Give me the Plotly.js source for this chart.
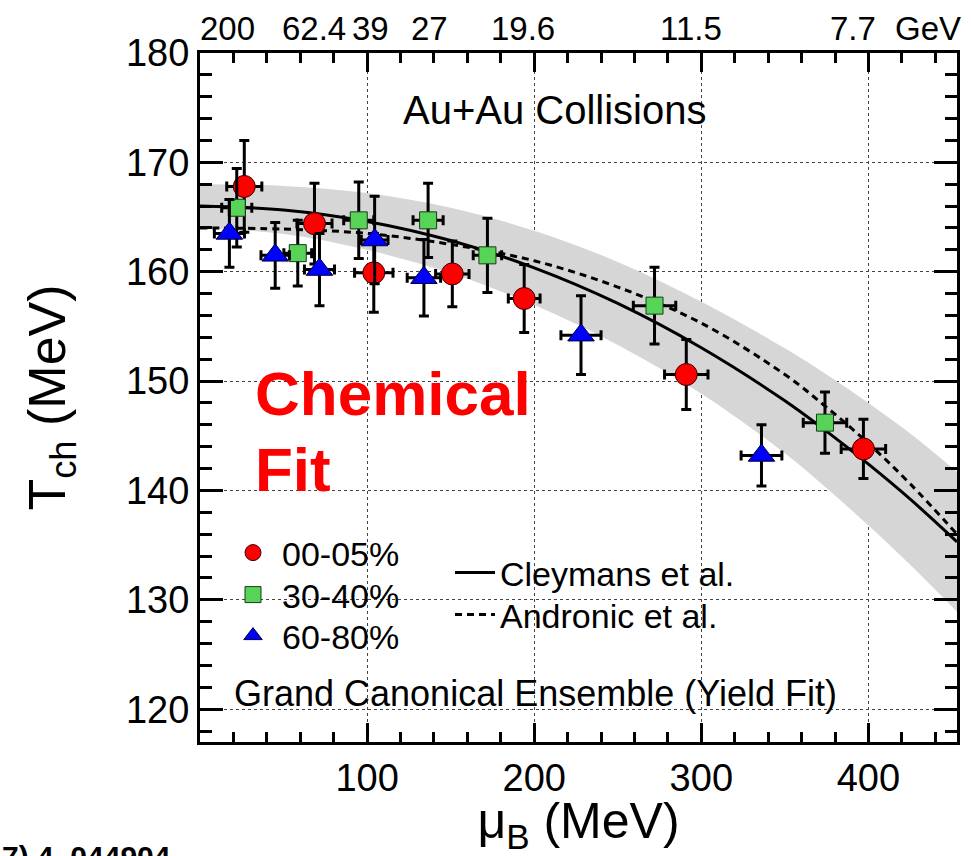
<!DOCTYPE html>
<html><head><meta charset="utf-8">
<script src="https://cdn.plot.ly/plotly-3.0.1.min.js"></script>
<style>html,body{margin:0;padding:0;background:#fff;} #chart{width:971px;height:856px;}</style>
</head><body><div id="chart"></div>
<script>
// Beam energies (top labels) and their positions on the mu_B axis
const energyLabels = ["200", "62.4", "39", "27", "19.6", "11.5", "7.7"];
const energyMuB = [16.2, 68.3, 101.8, 137.1, 193.4, 294, 391];

// 00-05% centrality
const centralMuB = [26.5, 68.5, 104, 151, 194, 291, 397];
const centralMuBErr = [10.5, 10.5, 11.5, 10, 9.5, 13, 13.3];
const centralT = [167.8, 164.4, 159.9, 159.8, 157.55, 150.6, 143.8];
const centralTErr = [4.2, 3.7, 3.6, 3.0, 3.1, 3.2, 2.7];

// 30-40% centrality
const midMuB = [22, 58.5, 95, 136.5, 172, 272, 374];
const midMuBErr = [9, 8.3, 9, 9, 8.5, 12.7, 13];
const midT = [165.85, 161.7, 164.7, 164.7, 161.5, 156.9, 146.2];
const midTErr = [3.6, 3.0, 3.5, 3.4, 3.4, 3.5, 2.8];

// 60-80% centrality
const periphMuB = [17.6, 45, 71.5, 104.5, 134, 228, 336];
const periphMuBErr = [9, 8.5, 9, 8, 10, 12, 12.2];
const periphT = [163.5, 161.5, 160.2, 162.9, 159.45, 154.2, 143.2];
const periphTErr = [3.1, 3.0, 3.3, 4.0, 3.5, 3.6, 2.8];

// Model curves
const curveMuB = [0, 50, 100, 150, 200, 250, 300, 350, 375, 400, 425, 453];
const cleymansT = [166.0, 165.65, 164.6, 162.85, 160.35, 157.1, 153.05, 148.2, 145.4, 142.4, 139.2, 135.3];
const bandUpperT = [168.0, 167.85, 167.2, 165.85, 163.75, 160.9, 157.25, 153.0, 150.6, 148.0, 145.2, 141.7];
const bandLowerT = [164.0, 163.45, 162.0, 159.85, 156.95, 153.3, 148.85, 143.4, 140.2, 136.8, 133.2, 128.9];
const andronicT = [164.0, 163.9, 163.5, 162.5, 161.0, 158.6, 155.3, 150.6, 147.6, 144.3, 140.6, 136.0];

const FONT = "Liberation Sans, Arial, Helvetica, sans-serif";
const W = 971, H = 856, ML = 200, MR = 14, MT = 53, MB = 114;
const PW = W - ML - MR, PH = H - MT - MB;
const px = x => (x - ML) / PW;
const py = y => (H - MB - y) / PH;

function errs(arr) {
  return {type: 'data', array: arr, visible: true, color: 'black', thickness: 3, width: 5};
}

const traces = [
  {x: curveMuB, y: bandLowerT, mode: 'lines', line: {width: 0, shape: 'spline'}, showlegend: false, hoverinfo: 'skip'},
  {x: curveMuB, y: bandUpperT, mode: 'lines', line: {width: 0, shape: 'spline'}, fill: 'tonexty',
   fillcolor: 'rgb(214,214,214)', showlegend: false, hoverinfo: 'skip'},
  {x: curveMuB, y: cleymansT, mode: 'lines', name: 'Cleymans et al.', line: {color: 'black', width: 3, shape: 'spline'}, legend: 'legend4'},
  {x: curveMuB, y: andronicT, mode: 'lines', name: 'Andronic et al.', line: {color: 'black', width: 3, dash: '7px,5px', shape: 'spline'}, legend: 'legend5'},
  {x: centralMuB, y: centralT, mode: 'markers', name: '00-05%', error_x: errs(centralMuBErr), error_y: errs(centralTErr),
   marker: {symbol: 'circle', size: 22, color: '#ff0000', line: {color: '#330000', width: 1}}, legend: 'legend'},
  {x: midMuB, y: midT, mode: 'markers', name: '30-40%', error_x: errs(midMuBErr), error_y: errs(midTErr),
   marker: {symbol: 'square', size: 17, color: '#57d457', line: {color: '#1a3a1a', width: 1}}, legend: 'legend2'},
  {x: periphMuB, y: periphT, mode: 'markers', name: '60-80%', error_x: errs(periphMuBErr), error_y: errs(periphTErr),
   marker: {symbol: 'triangle-up', size: 23, color: '#0000ff', line: {color: '#000033', width: 1}}, legend: 'legend3'}
];

function leg(x, y, iw) {
  return {x: x, y: y, xanchor: 'left', yanchor: 'middle', bgcolor: 'rgba(0,0,0,0)', borderwidth: 0,
          font: {family: FONT, size: 34, color: 'black'}, itemwidth: iw};
}

const annotations = [];
energyLabels.forEach((t, i) => {
  annotations.push({x: energyMuB[i], xref: 'x', y: 1, yref: 'paper', yanchor: 'bottom', xanchor: 'center',
    yshift: 4, text: t, showarrow: false, font: {family: FONT, size: 33, color: 'black'}});
});
annotations.push({x: px(893), xref: 'paper', y: 1, yref: 'paper', yanchor: 'bottom', xanchor: 'left',
  yshift: 4, text: 'GeV', showarrow: false, font: {family: FONT, size: 33, color: 'black'}});
annotations.push({x: px(555), y: py(110), xref: 'paper', yref: 'paper', xanchor: 'center', yanchor: 'middle',
  text: 'Au+Au Collisions', showarrow: false, font: {family: FONT, size: 40, color: 'black'}});
annotations.push({x: px(535), y: py(693), xref: 'paper', yref: 'paper', xanchor: 'center', yanchor: 'middle',
  text: 'Grand Canonical Ensemble (Yield Fit)', showarrow: false, font: {family: FONT, size: 36, color: 'black'}});
annotations.push({x: px(253), y: py(393), xref: 'paper', yref: 'paper', xanchor: 'left', yanchor: 'middle',
  text: '<b>Chemical</b>', showarrow: false, font: {family: FONT, size: 62, color: '#ff0000'}});
annotations.push({x: px(253), y: py(469), xref: 'paper', yref: 'paper', xanchor: 'left', yanchor: 'middle',
  text: '<b>Fit</b>', showarrow: false, font: {family: FONT, size: 62, color: '#ff0000'}});
annotations.push({x: px(0), y: py(856), xref: 'paper', yref: 'paper', xanchor: 'left', yanchor: 'middle',
  text: '<b>7) 4, 044904</b>', showarrow: false, font: {family: FONT, size: 30, color: 'black'}});

const axisCommon = {
  ticks: 'inside', tickwidth: 3, tickcolor: 'black', showline: true, linewidth: 3, linecolor: 'black',
  mirror: 'ticks', showgrid: true, gridcolor: '#444', griddash: 'dot', gridwidth: 1, zeroline: false,
  tickfont: {family: FONT, size: 38, color: 'black'}
};

const layout = {
  width: W, height: H, margin: {l: ML, r: MR, t: MT, b: MB, pad: 0},
  paper_bgcolor: 'white', plot_bgcolor: 'white', font: {family: FONT, color: 'black'},
  xaxis: Object.assign({}, axisCommon, {
    range: [0, 453], tickmode: 'array', tickvals: [100, 200, 300, 400], ticklen: 19,
    minor: {tick0: 0, dtick: 20, ticks: 'inside', ticklen: 10, tickwidth: 3, tickcolor: 'black', showgrid: false},
    title: {text: 'μ<sub>B</sub> (MeV)', font: {family: FONT, size: 50, color: 'black'}, standoff: 4}
  }),
  yaxis: Object.assign({}, axisCommon, {
    range: [117, 180], tickmode: 'array', tickvals: [120, 130, 140, 150, 160, 170, 180], ticklen: 23,
    minor: {tick0: 0, dtick: 2, ticks: 'inside', ticklen: 12, tickwidth: 3, tickcolor: 'black', showgrid: false},
    title: {text: 'T<sub>ch</sub> (MeV)', font: {family: FONT, size: 52, color: 'black'}, standoff: 44}
  }),
  legend: leg(px(224), py(553), 48),
  legend2: leg(px(224), py(595), 48),
  legend3: leg(px(224), py(636), 48),
  legend4: leg(px(450), py(573), 40),
  legend5: leg(px(450), py(615), 40),
  annotations: annotations,
  showlegend: true
};

Plotly.newPlot('chart', traces, layout, {staticPlot: true, displayModeBar: false});
</script></body></html>
